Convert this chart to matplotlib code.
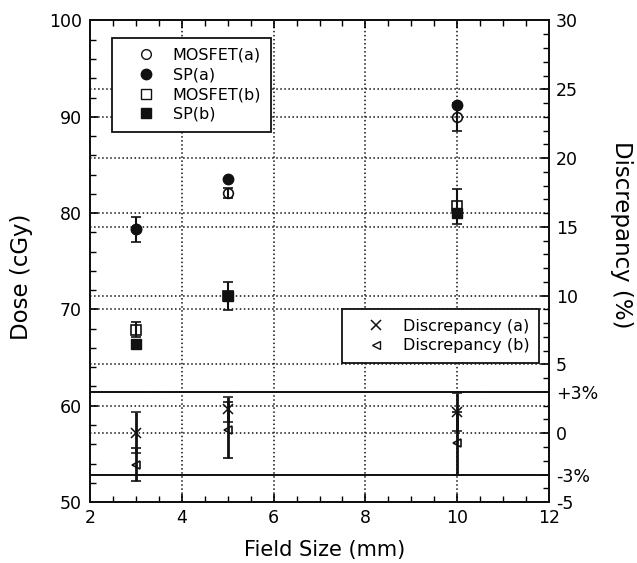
import numpy as np
import matplotlib
matplotlib.use('Agg')
import matplotlib.pyplot as plt
from matplotlib.lines import Line2D
from matplotlib.ticker import MultipleLocator

# field sizes (mm)
field_size = [3, 5, 10]

# dose (cGy), left axis
mosfet_a = [78.3, 82.1, 90.0]
mosfet_a_err = [1.25, 0.55, 1.45]
sp_a = [78.3, 83.5, 91.2]
mosfet_b = [67.9, 71.4, 80.7]
mosfet_b_err = [0.75, 1.45, 1.85]
sp_b = [66.4, 71.4, 80.0]

# discrepancy (%), right axis
disc_a = [0.05, 1.74, 1.52]
disc_a_err = [1.5, 0.93, 1.38]
disc_b = [-2.3, 0.23, -0.73]
disc_b_err = [1.2, 2.05, 2.3]

right_ticks = [-5, -3, 0, 3, 5, 10, 15, 20, 25, 30]
right_labels = ['-5', '-3%', '0', '+3%', '5', '10', '15', '20', '25', '30']

plt.rcParams['font.family'] = 'DejaVu Sans'
k = '#111111'

fig = plt.figure(figsize=(6.37, 5.63), dpi=100)
ax = fig.add_axes([0.1413, 0.1083, 0.7206, 0.8553])
ax2 = ax.twinx()

# dose points
ax.errorbar(field_size, mosfet_a, yerr=mosfet_a_err, fmt='o', mfc='none', mec=k, ms=7,
            ecolor=k, elinewidth=1.5, capsize=3.5, capthick=1.5, mew=1.2, zorder=3)
ax.plot(field_size, sp_a, 'o', color=k, ms=7.5, zorder=4)
ax.errorbar(field_size, mosfet_b, yerr=mosfet_b_err, fmt='s', mfc='none', mec=k, ms=7,
            ecolor=k, elinewidth=1.5, capsize=3.5, capthick=1.5, mew=1.2, zorder=3)
ax.plot(field_size, sp_b, 's', color=k, ms=7.5, zorder=4)

# discrepancy points
ax2.errorbar(field_size, disc_a, yerr=disc_a_err, fmt='x', color=k, ms=7, mew=1.1,
             elinewidth=2, capsize=3.5, capthick=1.5, zorder=3)
ax2.errorbar(field_size, disc_b, yerr=disc_b_err, fmt='<', mfc='none', mec=k, ms=6, mew=1.2,
             ecolor=k, elinewidth=2, capsize=3.5, capthick=1.5, zorder=3)
ax2.axhline(3, color=k, lw=1.4, zorder=2)
ax2.axhline(-3, color=k, lw=1.4, zorder=2)

ax.set_xlim(2, 12)
ax.set_ylim(50, 100)
ax2.set_ylim(-5, 30)

ax.xaxis.set_major_locator(MultipleLocator(2))
ax.xaxis.set_minor_locator(MultipleLocator(0.5))
ax.yaxis.set_major_locator(MultipleLocator(10))
ax.yaxis.set_minor_locator(MultipleLocator(2))
ax2.set_yticks(right_ticks)
ax2.set_yticklabels(right_labels)
ax2.yaxis.set_minor_locator(MultipleLocator(1))

ax.tick_params(axis='x', which='both', direction='in', top=True, labelsize=12.5, pad=5)
ax.tick_params(axis='y', which='both', direction='in', right=False, labelsize=12.5, pad=6)
ax.tick_params(which='major', length=6, width=1.2)
ax.tick_params(which='minor', length=4, width=1.0)
ax2.tick_params(axis='y', which='both', direction='in', labelsize=12.5, pad=5)
ax2.tick_params(which='major', length=6, width=1.2)
ax2.tick_params(which='minor', length=4, width=1.0)

# dotted grids
ax.grid(True, axis='both', which='major', linestyle=':', color=k, lw=1.1)
ax2.grid(True, axis='y', which='major', linestyle=':', color=k, lw=1.1)
for a in (ax, ax2):
    for s in a.spines.values():
        s.set_linewidth(1.4)
        s.set_color(k)

ax.set_xlabel('Field Size (mm)', fontsize=15, va='center')
ax.xaxis.set_label_coords(0.512, -0.1)
ax.set_ylabel('Dose (cGy)', fontsize=16.5, va='center')
ax.yaxis.set_label_coords(-0.15, 0.467)
ax2.set_ylabel('Discrepancy (%)', fontsize=16.5, rotation=270, va='center')
ax2.yaxis.set_label_coords(1.157, 0.555)

# legends
h1 = [Line2D([0], [0], marker='o', ls='none', mfc='none', mec=k, ms=7, label='MOSFET(a)'),
      Line2D([0], [0], marker='o', ls='none', color=k, ms=7.5, label='SP(a)'),
      Line2D([0], [0], marker='s', ls='none', mfc='none', mec=k, ms=7, label='MOSFET(b)'),
      Line2D([0], [0], marker='s', ls='none', color=k, ms=7.5, label='SP(b)')]
leg1 = ax2.legend(handles=h1, loc='upper left', bbox_to_anchor=(112/637, 1-38/563),
                  bbox_transform=fig.transFigure, borderaxespad=0, fontsize=11.5,
                  handlelength=3, handletextpad=0.2, borderpad=0.6, labelspacing=0.3,
                  fancybox=False, framealpha=1, edgecolor=k)
leg1.get_frame().set_linewidth(1.3)
ax2.add_artist(leg1)

h2 = [Line2D([0], [0], marker='x', ls='none', color=k, ms=7, mew=1.1, label='Discrepancy (a)'),
      Line2D([0], [0], marker='<', ls='none', mfc='none', mec=k, ms=6, label='Discrepancy (b)')]
leg2 = ax2.legend(handles=h2, loc='upper left', bbox_to_anchor=(342/637, 1-309/563),
                  bbox_transform=fig.transFigure, borderaxespad=0, fontsize=11.5,
                  handlelength=3, handletextpad=0.2, borderpad=0.6, labelspacing=0.3,
                  fancybox=False, framealpha=1, edgecolor=k)
leg2.get_frame().set_linewidth(1.3)

fig.savefig('out.png', dpi=100)
